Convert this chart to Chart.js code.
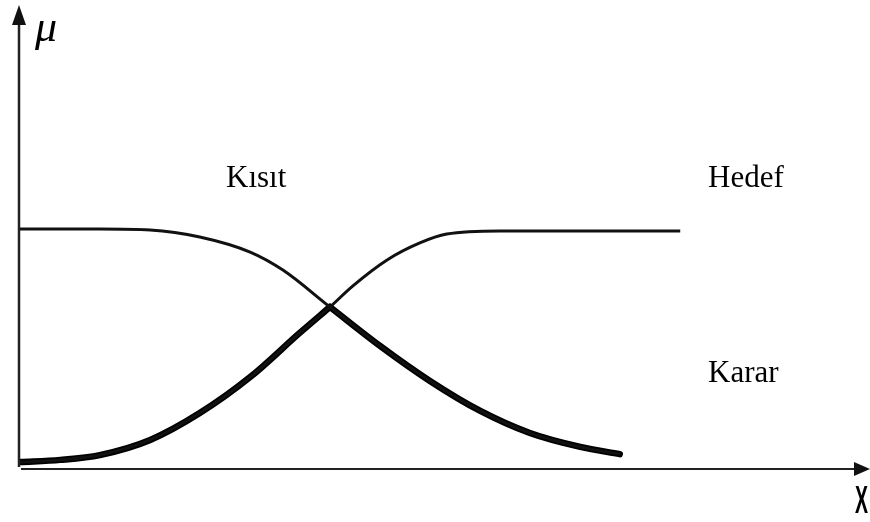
<!DOCTYPE html>
<html>
<head>
<meta charset="utf-8">
<script src="https://cdn.jsdelivr.net/npm/chart.js@4"></script>
<style>
  html, body { margin: 0; padding: 0; background: #fff; }
  #wrap { width: 870px; height: 522px; }
</style>
</head>
<body>
<div id="wrap"><canvas id="chart" width="870" height="522"></canvas></div>
<script>
'use strict';

// Kısıt (constraint) membership curve
const kisitX = [0, 0.95, 1.55, 2.14, 2.74, 3.13, 3.69, 4.29, 4.88, 5.48, 6.07, 6.67, 7.14];
const kisitMu = [1.0, 1.0, 0.996, 0.967, 0.904, 0.829, 0.675, 0.512, 0.367, 0.242, 0.15, 0.092, 0.062];

// Hedef (goal) membership curve
const hedefX = [0, 0.48, 0.95, 1.55, 2.14, 2.74, 3.33, 3.69, 3.96, 4.37, 4.76, 5.08, 5.71, 7.86];
const hedefMu = [0.029, 0.038, 0.058, 0.121, 0.233, 0.383, 0.567, 0.675, 0.762, 0.871, 0.942, 0.979, 0.992, 0.992];

// intersection point, Karar = min(Kısıt, Hedef)
const crossX = 3.69;

const labels = ['Kısıt', 'Hedef', 'Karar'];

const toPoints = (xs, ys) => xs.map((x, i) => ({ x, y: ys[i] }));
// Karar in two pieces so the corner at the crossing stays sharp
const kararRise = toPoints(hedefX, hedefMu).filter(p => p.x <= crossX);
const kararFall = toPoints(kisitX, kisitMu).filter(p => p.x >= crossX);

const ink = '#111';

// axes with arrows + text labels
const decor = {
  id: 'decor',
  afterDatasetsDraw(chart) {
    const { ctx, chartArea, scales } = chart;
    const x0 = scales.x.getPixelForValue(0) - 1;
    const y0 = scales.y.getPixelForValue(0);
    ctx.save();
    ctx.strokeStyle = '#222';
    ctx.fillStyle = '#111';
    ctx.lineWidth = 2.5;

    // y axis
    ctx.beginPath();
    ctx.moveTo(x0, y0 - 2);
    ctx.lineTo(x0, chartArea.top + 8);
    ctx.stroke();
    ctx.beginPath();
    ctx.moveTo(x0, chartArea.top - 8);
    ctx.lineTo(x0 - 7, chartArea.top + 12);
    ctx.lineTo(x0 + 7, chartArea.top + 12);
    ctx.closePath();
    ctx.fill();

    // x axis
    ctx.lineWidth = 2;
    ctx.beginPath();
    ctx.moveTo(x0 + 2, y0);
    ctx.lineTo(chartArea.right, y0);
    ctx.stroke();
    ctx.beginPath();
    ctx.moveTo(chartArea.right + 10, y0);
    ctx.lineTo(chartArea.right - 6, y0 - 7);
    ctx.lineTo(chartArea.right - 6, y0 + 7);
    ctx.closePath();
    ctx.fill();

    // texts
    ctx.fillStyle = '#000';
    ctx.textBaseline = 'alphabetic';
    ctx.textAlign = 'left';
    ctx.font = '31px "Liberation Serif", "Times New Roman", serif';
    ctx.fillText(labels[0], 226, 187);
    ctx.fillText(labels[1], 708, 187);
    ctx.fillText(labels[2], 708, 382);

    ctx.font = 'italic 44px "Liberation Serif", serif';
    ctx.fillText('μ', 35, 41);

    ctx.save();
    ctx.translate(855, 513);
    ctx.scale(0.5, 1);
    ctx.font = 'bold 39px "Liberation Sans", sans-serif';
    ctx.fillText('X', 0, 0);
    ctx.restore();

    ctx.restore();
  },
};

const thin = { borderColor: ink, borderWidth: 3 };
const thick = { borderColor: '#000', borderWidth: 6.5, borderCapStyle: 'round' };

new Chart(document.getElementById('chart'), {
  type: 'line',
  data: {
    datasets: [
      { label: labels[0], data: toPoints(kisitX, kisitMu), ...thin },
      { label: labels[1], data: toPoints(hedefX, hedefMu), ...thin },
      { label: labels[2], data: kararRise, ...thick },
      { label: labels[2], data: kararFall, ...thick },
    ],
  },
  options: {
    responsive: false,
    animation: false,
    layout: { padding: { left: 20, right: 10, top: 13, bottom: 53 } },
    elements: {
      point: { radius: 0 },
      line: { cubicInterpolationMode: 'monotone', fill: false },
    },
    plugins: { legend: { display: false }, tooltip: { enabled: false } },
    scales: {
      x: { type: 'linear', min: 0, max: 10, display: false },
      y: { min: 0, max: 1.9, display: false },
    },
  },
  plugins: [decor],
});
</script>
</body>
</html>
